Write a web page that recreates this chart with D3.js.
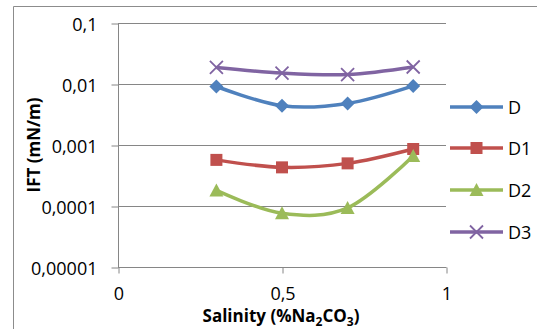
<!DOCTYPE html>
<html>
<head>
<meta charset="utf-8">
<script src="https://cdn.jsdelivr.net/npm/d3@7"></script>
<style>
  body { margin: 0; background: white; }
  text { font-family: "Open Sans", "Liberation Sans", sans-serif; }
</style>
</head>
<body>
<script>
const width = 537, height = 329;

// data
const salinity = [0.3, 0.5, 0.7, 0.9];
const seriesNames = ["D", "D1", "D2", "D3"];
const valuesD = [0.0091, 0.0044, 0.0048, 0.0093];
const valuesD1 = [0.00057, 0.00043, 0.00050, 0.00086];
const valuesD2 = [0.00018, 0.000076, 0.000093, 0.00066];
const valuesD3 = [0.0187, 0.0151, 0.0143, 0.0190];
const yTicks = [0.1, 0.01, 0.001, 0.0001, 0.00001];
const yTickLabels = ["0,1", "0,01", "0,001", "0,0001", "0,00001"];
const xTicks = [0, 0.5, 1];
const xTickLabels = ["0", "0,5", "1"];

const colours = ["#4F81BD", "#C0504D", "#9BBB59", "#8064A2"];
const markers = ["diamond", "square", "triangle", "cross"];
const allValues = [valuesD, valuesD1, valuesD2, valuesD3];

const svg = d3.select("body").append("svg")
    .attr("width", width)
    .attr("height", height);

svg.append("rect")
    .attr("width", width)
    .attr("height", height)
    .attr("fill", "white");

// outer chart border (top and left visible)
svg.append("path")
    .attr("d", "M13.5,330 L13.5,6.5 L537,6.5")
    .attr("fill", "none")
    .attr("stroke", "#8c8c8c")
    .attr("stroke-width", 1);

const x = d3.scaleLinear().domain([0, 1]).range([118, 446]);
const y = d3.scaleLog().domain([0.00001, 0.1]).range([267, 23]);

const grey = "#868686";

// gridlines
svg.selectAll(".grid")
    .data(yTicks)
    .enter().append("line")
        .attr("x1", x(0)).attr("x2", x(1))
        .attr("y1", d => Math.round(y(d)) + 0.5)
        .attr("y2", d => Math.round(y(d)) + 0.5)
        .attr("stroke", grey)
        .attr("stroke-width", 1);

// y axis
const yAxis = svg.append("g")
    .attr("transform", `translate(${x(0) + 0.5},0.5)`)
    .call(d3.axisLeft(y).tickValues(yTicks).tickSize(7).tickPadding(14)
        .tickFormat((d, i) => yTickLabels[i]));
yAxis.selectAll("line").attr("stroke", grey);
yAxis.select(".domain").attr("stroke", grey).attr("d", `M0,${y(0.1)}V${y(0.00001)}`);
yAxis.selectAll("text").attr("font-size", 18).attr("fill", "#000").attr("dy", "0.4em");

// x axis
const xAxis = svg.append("g")
    .attr("transform", `translate(0.5,${Math.round(y(0.00001)) + 0.5})`)
    .call(d3.axisBottom(x).tickValues(xTicks).tickSize(6).tickPadding(14)
        .tickFormat((d, i) => xTickLabels[i]));
xAxis.selectAll("line").attr("stroke", grey);
xAxis.select(".domain").attr("stroke", grey).attr("d", `M${x(0)},0H${x(1)}`);
xAxis.selectAll("text").attr("font-size", 18).attr("fill", "#000");

// axis titles
svg.append("text")
    .attr("transform", "translate(40,145) rotate(-90)")
    .attr("text-anchor", "middle")
    .attr("font-size", 17)
    .attr("font-weight", "bold")
    .text("IFT (mN/m)");

const xt = svg.append("text")
    .attr("x", 281).attr("y", 322)
    .attr("text-anchor", "middle")
    .attr("font-size", 17)
    .attr("font-weight", "bold");
xt.append("tspan").text("Salinity (%Na");
xt.append("tspan").attr("font-size", 12).attr("dy", 4).text("2");
xt.append("tspan").attr("dy", -4).text("CO");
xt.append("tspan").attr("font-size", 12).attr("dy", 4).text("3");
xt.append("tspan").attr("dy", -4).text(")");

const line = d3.line()
    .x(d => x(d[0]))
    .y(d => y(d[1]))
    .curve(d3.curveCardinal.tension(0));

function drawMarker(g, type, colour) {
    if (type === "diamond") {
        g.append("path").attr("d", "M0,-7L7,0L0,7L-7,0Z").attr("fill", colour);
    } else if (type === "square") {
        g.append("rect").attr("x", -6).attr("y", -6).attr("width", 12).attr("height", 12).attr("fill", colour);
    } else if (type === "triangle") {
        g.append("path").attr("d", "M0,-7L7,6L-7,6Z").attr("fill", colour);
    } else {
        g.append("path").attr("d", "M-6.5,-6.5L6.5,6.5M-6.5,6.5L6.5,-6.5")
            .attr("stroke", colour).attr("stroke-width", 1.8).attr("fill", "none");
    }
}

allValues.forEach((vals, i) => {
    const pts = salinity.map((s, j) => [s, vals[j]]);
    svg.append("path")
        .attr("d", line(pts))
        .attr("fill", "none")
        .attr("stroke", colours[i])
        .attr("stroke-width", 3.5)
        .attr("stroke-linejoin", "round");
    pts.forEach(p => {
        const g = svg.append("g").attr("transform", `translate(${x(p[0])},${y(p[1])})`);
        drawMarker(g, markers[i], colours[i]);
    });
});

// legend
const legendY = [107, 148, 190, 232];
seriesNames.forEach((name, i) => {
    svg.append("line")
        .attr("x1", 450).attr("x2", 503)
        .attr("y1", legendY[i]).attr("y2", legendY[i])
        .attr("stroke", colours[i])
        .attr("stroke-width", 3.5);
    const g = svg.append("g").attr("transform", `translate(476.5,${legendY[i]})`);
    drawMarker(g, markers[i], colours[i]);
    svg.append("text")
        .attr("x", 508).attr("y", legendY[i] + 6.5)
        .attr("font-size", 18)
        .text(name);
});
</script>
</body>
</html>
